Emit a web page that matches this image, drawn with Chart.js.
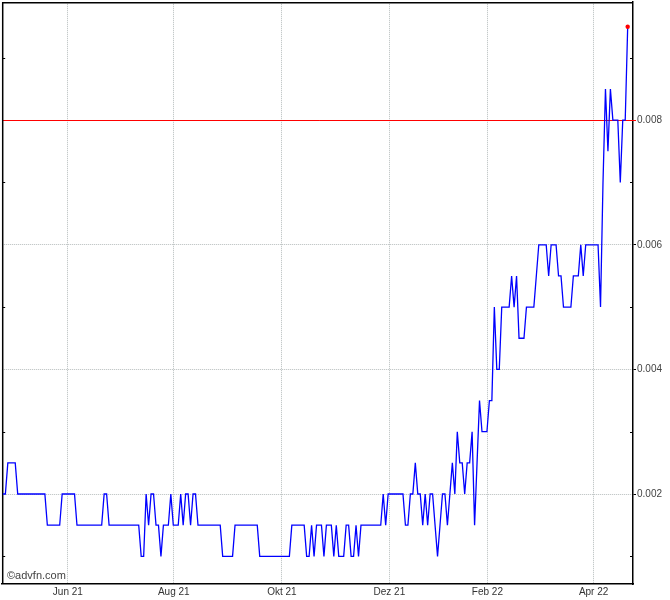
<!DOCTYPE html>
<html>
<head>
<meta charset="utf-8">
<script src="https://cdn.jsdelivr.net/npm/chart.js@4/dist/chart.umd.min.js"></script>
<style>
  body { margin: 0; background: #fff; }
  #wrap { position: relative; width: 670px; height: 600px; }
  #mark { position: absolute; left: 7px; top: 569px; font: 11px "Liberation Sans", Arial, sans-serif; color: #444; }
</style>
</head>
<body>
<div id="wrap">
  <canvas id="chart" width="670" height="600"></canvas>
  <div id="mark">©advfn.com</div>
</div>
<script>
// daily closing prices, one per trading day
const prices = [
  0.002, 0.002, 0.0025, 0.0025, 0.0025, 0.0025, 0.002, 0.002, 0.002, 0.002,
  0.002, 0.002, 0.002, 0.002, 0.002, 0.002, 0.002, 0.002, 0.0015, 0.0015,
  0.0015, 0.0015, 0.0015, 0.0015, 0.002, 0.002, 0.002, 0.002, 0.002, 0.002,
  0.0015, 0.0015, 0.0015, 0.0015, 0.0015, 0.0015, 0.0015, 0.0015, 0.0015, 0.0015,
  0.0015, 0.002, 0.002, 0.0015, 0.0015, 0.0015, 0.0015, 0.0015, 0.0015, 0.0015,
  0.0015, 0.0015, 0.0015, 0.0015, 0.0015, 0.0015, 0.001, 0.001, 0.002, 0.0015,
  0.002, 0.002, 0.0015, 0.0015, 0.001, 0.0015, 0.0015, 0.0015, 0.002, 0.0015,
  0.0015, 0.0015, 0.002, 0.0015, 0.002, 0.002, 0.0015, 0.002, 0.002, 0.0015,
  0.0015, 0.0015, 0.0015, 0.0015, 0.0015, 0.0015, 0.0015, 0.0015, 0.0015, 0.001,
  0.001, 0.001, 0.001, 0.001, 0.0015, 0.0015, 0.0015, 0.0015, 0.0015, 0.0015,
  0.0015, 0.0015, 0.0015, 0.0015, 0.001, 0.001, 0.001, 0.001, 0.001, 0.001,
  0.001, 0.001, 0.001, 0.001, 0.001, 0.001, 0.001, 0.0015, 0.0015, 0.0015,
  0.0015, 0.0015, 0.0015, 0.001, 0.001, 0.0015, 0.001, 0.0015, 0.0015, 0.0015,
  0.001, 0.0015, 0.0015, 0.0015, 0.001, 0.0015, 0.001, 0.001, 0.001, 0.0015,
  0.0015, 0.001, 0.001, 0.0015, 0.001, 0.0015, 0.0015, 0.0015, 0.0015, 0.0015,
  0.0015, 0.0015, 0.0015, 0.0015, 0.002, 0.0015, 0.002, 0.002, 0.002, 0.002,
  0.002, 0.002, 0.002, 0.0015, 0.0015, 0.002, 0.002, 0.0025, 0.002, 0.002,
  0.0015, 0.002, 0.0015, 0.002, 0.002, 0.0015, 0.001, 0.0015, 0.002, 0.002,
  0.0015, 0.002, 0.0025, 0.002, 0.003, 0.0025, 0.0025, 0.002, 0.0025, 0.0025,
  0.003, 0.0015, 0.0025, 0.0035, 0.003, 0.003, 0.003, 0.0035, 0.0035, 0.005,
  0.004, 0.004, 0.005, 0.005, 0.005, 0.005, 0.0055, 0.005, 0.0055, 0.0045,
  0.0045, 0.0045, 0.005, 0.005, 0.005, 0.005, 0.0055, 0.006, 0.006, 0.006,
  0.006, 0.0055, 0.006, 0.006, 0.006, 0.0055, 0.0055, 0.005, 0.005, 0.005,
  0.005, 0.0055, 0.0055, 0.0055, 0.006, 0.0055, 0.006, 0.006, 0.006, 0.006,
  0.006, 0.006, 0.005, 0.007, 0.0085, 0.0075, 0.0085, 0.008, 0.008, 0.008,
  0.007, 0.008, 0.008, 0.0095
];

// month ticks (positions in trading days from the first point)
const monthLabels = ['Jun 21', 'Aug 21', 'Okt 21', 'Dez 21', 'Feb 22', 'Apr 22'];
const monthTickPos = [26.3, 69.2, 113, 156.5, 196.2, 239.2];

const yTickValues = [0.001, 0.002, 0.003, 0.004, 0.005, 0.006, 0.007, 0.008, 0.009];
const yLabelTicks = [0.002, 0.004, 0.006, 0.008];
const refLevel = 0.008;

const gridGrey = '#b6bcbc';
const isMajor = v => yLabelTicks.some(t => Math.abs(t - v) < 1e-9);

// frame, red reference line, inner minor ticks
const framePlugin = {
  id: 'frame',
  beforeDatasetsDraw(chart) {
    const { ctx, chartArea: a, scales } = chart;
    const y = scales.y;
    ctx.save();
    const ry = Math.round(y.getPixelForValue(refLevel)) + 0.5;
    ctx.strokeStyle = '#ff0000';
    ctx.lineWidth = 1;
    ctx.beginPath();
    ctx.moveTo(a.left, ry);
    ctx.lineTo(a.right + 3, ry);
    ctx.stroke();

    ctx.strokeStyle = '#000';
    ctx.beginPath();
    yTickValues.filter(v => !isMajor(v)).forEach(v => {
      const py = Math.round(y.getPixelForValue(v)) + 0.5;
      ctx.moveTo(a.left, py); ctx.lineTo(a.left + 3, py);
      ctx.moveTo(a.right - 3, py); ctx.lineTo(a.right, py);
    });
    ctx.stroke();

    ctx.lineWidth = 1.5;
    ctx.beginPath();
    ctx.moveTo(a.left + 0.5, a.bottom);
    ctx.lineTo(a.left + 0.5, a.top + 0.5);
    ctx.lineTo(a.right, a.top + 0.5);
    ctx.stroke();
    ctx.restore();
  }
};

const lastIdx = prices.length - 1;

new Chart(document.getElementById('chart').getContext('2d'), {
  type: 'line',
  data: {
    datasets: [{
      data: prices.map((p, i) => ({ x: i, y: p })),
      borderColor: '#0000ff',
      borderWidth: 1.3,
      tension: 0,
      pointRadius: ctx => ctx.dataIndex === lastIdx ? 2.2 : 0,
      pointBackgroundColor: '#ff0000',
      pointBorderWidth: 0,
      pointHoverRadius: 0
    }]
  },
  options: {
    responsive: false,
    animation: false,
    events: [],
    layout: { padding: { left: 2, top: 2, right: 0, bottom: 0 } },
    plugins: { legend: { display: false }, tooltip: { enabled: false } },
    scales: {
      x: {
        type: 'linear',
        min: -0.28,
        max: 255.15,
        afterBuildTicks: axis => { axis.ticks = monthTickPos.map(v => ({ value: v })); },
        afterFit: axis => { axis.height = 16; axis.paddingLeft = 0; axis.paddingRight = 0; },
        ticks: {
          autoSkip: false,
          maxRotation: 0,
          padding: 2,
          color: '#333',
          font: { family: '"Liberation Sans", Arial, sans-serif', size: 10 },
          callback: (value, index) => monthLabels[index]
        },
        grid: { color: gridGrey, lineWidth: 1, drawTicks: false },
        border: { display: true, color: '#000', width: 1.5, dash: [1, 1] }
      },
      y: {
        type: 'linear',
        position: 'right',
        min: 0.000556,
        max: 0.009893,
        afterBuildTicks: axis => { axis.ticks = yTickValues.map(v => ({ value: v })); },
        afterFit: axis => { axis.width = 37; axis.paddingTop = 0; axis.paddingBottom = 0; },
        ticks: {
          autoSkip: false,
          padding: 1,
          color: '#444',
          font: { family: '"Liberation Sans", Arial, sans-serif', size: 10 },
          callback: value => isMajor(value) ? value.toFixed(3) : ''
        },
        grid: {
          color: ctx => (ctx.tick && isMajor(ctx.tick.value)) ? gridGrey : 'rgba(0,0,0,0)',
          lineWidth: 1,
          drawTicks: true,
          tickLength: 3,
          tickColor: ctx => (ctx.tick && isMajor(ctx.tick.value)) ? '#000' : 'rgba(0,0,0,0)'
        },
        border: { display: true, color: '#000', width: 1.5, dash: [1, 1] }
      }
    }
  },
  plugins: [framePlugin]
});
</script>
</body>
</html>
